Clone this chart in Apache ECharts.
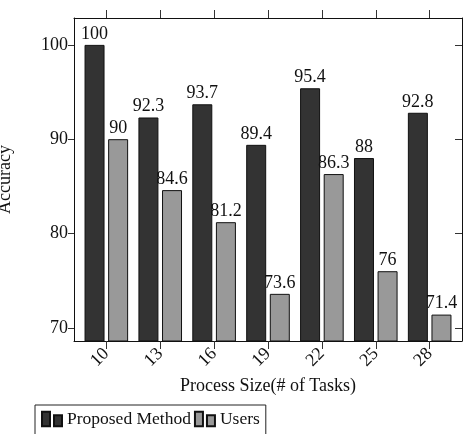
<!DOCTYPE html>
<html>
<head>
<meta charset="utf-8">
<script src="https://cdn.jsdelivr.net/npm/echarts@6/dist/echarts.min.js"></script>
<style>
html, body { margin: 0; padding: 0; background: #fff; }
#main { width: 466px; height: 434px; }
</style>
</head>
<body>
<div id="main"></div>
<script>
// process sizes (# of tasks) and accuracies
var sizes = [10, 13, 16, 19, 22, 25, 28];
var proposed = [100, 92.3, 93.7, 89.4, 95.4, 88, 92.8];
var users = [90, 84.6, 81.2, 73.6, 86.3, 76, 71.4];
var yTicks = [70, 80, 90, 100];

var FONT = 'Liberation Serif';
var legendIcon = 'path://M0,0H8V14.5H0Z M12,3.5H20V14.5H12Z';

var pairs = function(ys){
	var out = [];
	for (var i = 0; i < sizes.length; i++) {
		out.push([sizes[i], ys[i]]);
	}
	return out;
};

var barLabel = {
	show: true,
	position: 'top',
	distance: 2,
	color: '#111',
	fontFamily: FONT,
	fontSize: 18
};

var myChart = echarts.init(document.getElementById('main'));

var option = {
	backgroundColor: '#fff',
	animation: false,
	textStyle: { fontFamily: FONT },
	grid: {
		left: 74, right: 4, top: 18, height: 323,
		containLabel: false,
		outerBoundsMode: 'none'
	},
	legend: {
		left: 35,
		top: 405,
		padding: [5, 6, 10, 6],
		borderColor: '#222',
		borderWidth: 1,
		itemWidth: 20,
		itemHeight: 14.5,
		itemGap: 3,
		icon: legendIcon,
		textStyle: { fontFamily: FONT, fontSize: 17.5, color: '#111' },
		data: ['Proposed Method', 'Users']
	},
	xAxis: [
		{
			type: 'value',
			position: 'bottom',
			min: 8.2,
			max: 29.8,
			name: 'Process Size(# of Tasks)',
			nameLocation: 'middle',
			nameGap: 34,
			nameTextStyle: { fontFamily: FONT, fontSize: 18, color: '#111' },
			splitLine: { show: false },
			axisLine: { show: true, lineStyle: { color: '#111', width: 1 } },
			axisTick: {
				show: true, inside: false, length: 8,
				customValues: sizes,
				lineStyle: { color: '#333' }
			},
			axisLabel: {
				customValues: sizes,
				rotate: 45,
				margin: 10,
				fontFamily: FONT, fontSize: 18, color: '#111'
			}
		},
		{
			type: 'value',
			position: 'top',
			min: 8.2,
			max: 29.8,
			splitLine: { show: false },
			axisLine: { show: true, lineStyle: { color: '#111', width: 1 } },
			axisTick: {
				show: true, inside: false, length: 8,
				customValues: sizes,
				lineStyle: { color: '#333' }
			},
			axisLabel: { show: false }
		}
	],
	yAxis: [
		{
			type: 'value',
			position: 'left',
			min: 68.6,
			max: 102.85,
			name: 'Accuracy',
			nameLocation: 'middle',
			nameGap: 60,
			nameTextStyle: { fontFamily: FONT, fontSize: 18, color: '#111' },
			splitLine: { show: false },
			axisLine: { show: true, lineStyle: { color: '#111', width: 1 } },
			axisTick: {
				show: true, inside: false, length: 6,
				customValues: yTicks,
				lineStyle: { color: '#333' }
			},
			axisLabel: {
				customValues: yTicks,
				margin: 6,
				fontFamily: FONT, fontSize: 18, color: '#111'
			}
		},
		{
			type: 'value',
			position: 'right',
			min: 68.6,
			max: 102.85,
			splitLine: { show: false },
			axisLine: { show: true, lineStyle: { color: '#111', width: 1 } },
			axisTick: {
				show: true, inside: true, length: 7,
				customValues: yTicks,
				lineStyle: { color: '#333' }
			},
			axisLabel: { show: false }
		}
	],
	series: [
		{
			name: 'Proposed Method',
			type: 'bar',
			xAxisIndex: 0,
			yAxisIndex: 0,
			barWidth: 20,
			barGap: '18%',
			itemStyle: { color: '#333333', borderColor: '#111', borderWidth: 1 },
			label: barLabel,
			data: pairs(proposed)
		},
		{
			name: 'Users',
			type: 'bar',
			xAxisIndex: 0,
			yAxisIndex: 0,
			barWidth: 20,
			barGap: '18%',
			itemStyle: { color: '#999999', borderColor: '#111', borderWidth: 1 },
			label: barLabel,
			data: pairs(users)
		}
	]
};

myChart.setOption(option);
</script>
</body>
</html>
